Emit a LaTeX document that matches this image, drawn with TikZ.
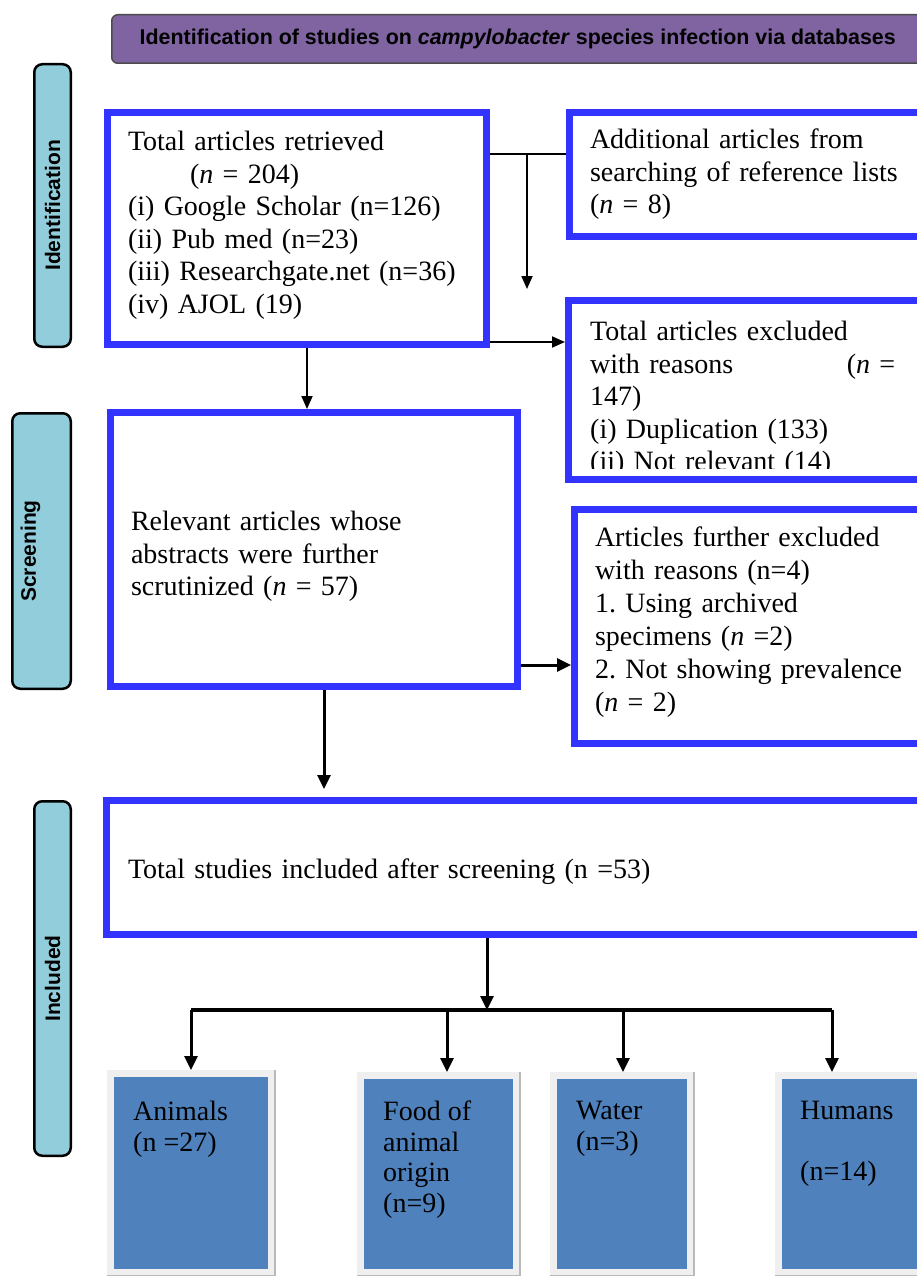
\documentclass[tikz,border=0pt]{standalone}
\usepackage{fontspec}
\setmainfont{Liberation Serif}
\newfontfamily\labelfont{Liberation Sans}
\usetikzlibrary{arrows.meta,positioning}
\definecolor{boxblue}{HTML}{3333FF}
\definecolor{headpurple}{HTML}{8064A2}
\definecolor{phasecyan}{HTML}{92CDDC}
\definecolor{catblue}{HTML}{4F81BD}
\definecolor{framegray}{HTML}{EFEFEF}
\frenchspacing

\begin{document}
\begin{tikzpicture}[
    x=1pt, y=-1pt,
    head/.style={draw=gray!60!black, line width=1.5pt, fill=headpurple,
      rounded corners=6pt, anchor=north west, inner sep=0pt,
      font=\labelfont\bfseries\fontsize{21.4}{24}\selectfont},
    phase/.style={draw=black, line width=2.5pt, fill=phasecyan,
      rounded corners=8pt, rotate=90, inner sep=0pt,
      font=\labelfont\bfseries\fontsize{21}{24}\selectfont},
    box/.style={draw=boxblue, line width=7pt, fill=white, anchor=north west,
      align=left, inner xsep=20.5pt, inner ysep=0pt,
      font=\fontsize{28}{32.5}\selectfont},
    boxtext/.style={anchor=north west, align=left, inner sep=0pt,
      font=\fontsize{28}{32.5}\selectfont},
    cat/.style={draw=framegray, line width=7pt, fill=catblue,
      anchor=north west, inner sep=0pt},
    cattext/.style={align=left, inner sep=0pt, font=\fontsize{28}{30.5}\selectfont},
    link/.style={line width=1.8pt},
    arr/.style={link, -{Triangle[length=13pt,width=11pt]}},
    arrb/.style={line width=3pt, -{Triangle[length=14pt,width=13pt]}},
    ]
  \useasboundingbox (0,0) rectangle (916,1276);

  % title and phase labels
  \node[head, minimum width=812pt, minimum height=48.5pt] (title) at (111,14)
    {Identification of studies on \textit{campylobacter} species infection via databases};
  \node[phase, minimum width=282.5pt, minimum height=36.5pt] (idph) at (52.5,205.5) {Identification};
  \node[phase, minimum width=275.5pt, minimum height=58.5pt] (scph) at (41.5,551)
    {\raisebox{11pt}[\height][\depth]{Screening}};
  \node[phase, minimum width=354.5pt, minimum height=36.5pt] (inph) at (52.5,978.5) {Included};

  % identification
  \node[box, text width=338pt, minimum width=379pt, minimum height=232pt] (retr) at (104,109)
    {Total articles retrieved\\
     \hspace*{62pt}(\textit{n} = 204)\\
     (i) Google Scholar (n=126)\\
     (ii) Pub med (n=23)\\
     (iii) Researchgate.net (n=36)\\
     (iv) AJOL (19)\rule[-12pt]{0pt}{0pt}};
  \node[box, text width=326pt, minimum width=367pt, minimum height=124pt] (add) at (566,109)
    {Additional articles from\\
     searching of reference lists\\
     (\textit{n} = 8)};
  \node[box, minimum width=368pt, minimum height=179pt] (excl) at (565,297) {};
  \begin{scope}
    \clip (560,300) rectangle (940,468);
    \node[boxtext, text width=305pt] (excltext) at (590,321)
      {Total articles excluded\\
       with reasons\hfill(\textit{n} =\\
       147)\\
       (i) Duplication (133)\\
       (ii) Not relevant (14)};
  \end{scope}

  % screening
  \node[box, text width=366pt, minimum width=407pt, minimum height=274pt] (rel) at (107,409)
    {\rule{0pt}{33.5pt}Relevant articles whose\\
     abstracts were further\\
     scrutinized (\textit{n} = 57)};
  \node[box, text width=321pt, minimum width=362pt, minimum height=234pt,
    font=\fontsize{28}{33}\selectfont] (fexcl) at (571,506)
    {Articles further excluded\\
     with reasons (n=4)\\
     1. Using archived\\
     specimens (\textit{n} =2)\\
     2. Not showing prevalence\\
     (\textit{n} = 2)\rule[-14pt]{0pt}{0pt}};

  % included
  \node[box, inner xsep=21.5pt, text width=787pt, minimum width=830pt, minimum height=134pt] (incl) at (103,797)
    {\rule{0pt}{27.5pt}Total studies included after screening (n =53)};
  \node[cat, minimum width=161pt, minimum height=199pt] (anim) at (107,1070) {};
  \node[cat, minimum width=156pt, minimum height=197pt] (food) at (357,1072) {};
  \node[cat, minimum width=137pt, minimum height=197pt] (water) at (550,1072) {};
  \node[cat, minimum width=168pt, minimum height=197pt] (hum) at (775,1072) {};
  \foreach \n in {anim, food, water, hum}
    \draw[gray!55, line width=1.5pt] (\n.north east) -- (\n.south east) -- (\n.south west);
  \node[cattext, below right=31pt and 26pt of anim.north west] (animt) {Animals\\(n =27)};
  \node[cattext, below right=29pt and 26pt of food.north west] (foodt) {Food of\\animal\\origin\\(n=9)};
  \node[cattext, below right=29pt and 26pt of water.north west] (watert) {Water\\(n=3)};
  \node[cattext, below right=29pt and 25pt of hum.north west] (humt) {Humans\\\mbox{}\\(n=14)};

  % connectors
  \coordinate (split) at (527,154);
  \coordinate (r1) at ([yshift=6pt]retr.south east);
  \coordinate (r2) at ([xshift=10pt]retr.south);
  \coordinate (s1) at ([yshift=25pt]rel.south east);
  \coordinate (s2) at ([xshift=10pt]rel.south);
  \coordinate (hub) at (487,1010);
  \coordinate (b1) at (191,1010);
  \coordinate (b2) at (447,1010);
  \coordinate (b3) at (623,1010);
  \coordinate (b4) at (832,1010);

  \draw[link] (retr.east |- split) -- (add.west |- split);
  \draw[arr, shorten >=8pt] (split) -- (split |- excl.north);
  \draw[arr] (r1) -- (r1 -| excl.west);
  \draw[arr] (r2) -- (r2 |- rel.north);
  \draw[arrb] (s1) -- (s1 -| fexcl.west);
  \draw[arrb, shorten >=8pt] (s2) -- (s2 |- incl.north);
  \draw[arrb] (incl.south -| hub) -- (hub);
  \draw[line width=4pt] (b1) -- (b4);
  \foreach \c/\n in {b1/anim, b2/food, b3/water, b4/hum}
    \draw[arrb] (\c) -- (\c |- \n.north);
\end{tikzpicture}
\end{document}
